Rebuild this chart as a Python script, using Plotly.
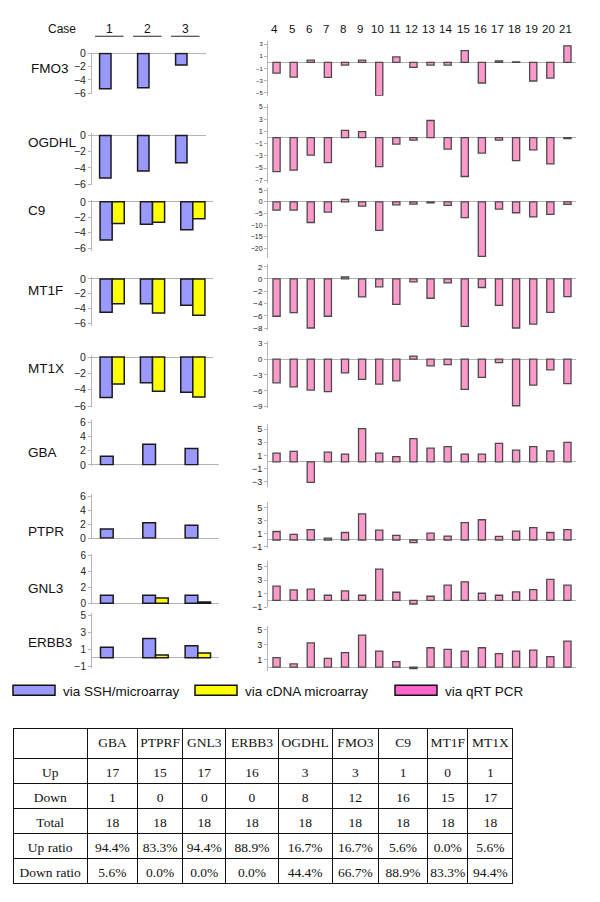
import plotly.graph_objects as go

# 页面有 8px 的默认边距, 所以图比窗口小 16px
PAD = 8
W, H = 600 - 2 * PAD, 902 - 2 * PAD

# 病例编号
cases_left = [1, 2, 3]
cases_right = list(range(4, 22))
row_labels = ["FMO3", "OGDHL", "C9", "MT1F", "MT1X", "GBA", "PTPR", "GNL3", "ERBB3"]

# via SSH/microarray (cases 1-3)
ssh_fmo3 = [-5.35, -5.2, -1.75]
ssh_ogdhl = [-5.26, -4.37, -3.36]
ssh_c9 = [-4.93, -2.9, -3.6]
ssh_mt1f = [-4.5, -3.33, -3.55]
ssh_mt1x = [-4.96, -3.15, -4.3]
ssh_gba = [1.2, 2.9, 2.3]
ssh_ptprf = [1.3, 2.2, 1.85]
ssh_gnl3 = [1.0, 1.0, 1.0]
ssh_erbb3 = [1.23, 2.26, 1.4]

# via cDNA microarray (cases 1-3)
cdna_c9 = [-2.8, -2.65, -2.2]
cdna_mt1f = [-3.33, -4.6, -4.9]
cdna_mt1x = [-3.3, -4.2, -4.9]
cdna_gnl3 = [None, 0.65, 0.15]
cdna_erbb3 = [None, 0.3, 0.55]

# via qRT PCR (cases 4-21)
qpcr_fmo3 = [-1.77, -2.42, 0.38, -2.47, -0.43, 0.38, -5.48, 0.91, -0.8,
             -0.43, -0.43, 1.94, -3.39, 0.27, 0.1, -3.06, -2.58, 2.74]
qpcr_ogdhl = [-5.57, -5.35, -2.86, -4.1, 1.19, 0.97, -4.76, -1.08, -0.43,
              2.8, -1.89, -6.38, -2.54, -0.43, -3.78, -2.0, -4.32, -0.16]
qpcr_c9 = [-3.55, -3.55, -8.9, -4.4, 1.1, -1.84, -12.3, -1.28, -1.0,
           -0.43, -1.56, -6.8, -23.5, -3.1, -4.7, -6.5, -5.4, -1.13]
qpcr_mt1f = [-6.08, -5.5, -8.0, -6.08, 0.32, -2.93, -1.28, -4.16, -0.48,
             -3.15, -0.64, -7.73, -1.39, -4.32, -8.0, -7.36, -5.44, -2.88]
qpcr_mt1x = [-4.5, -5.25, -5.86, -6.17, -2.6, -3.83, -4.75, -4.14, 0.56,
             -1.3, -1.05, -5.74, -3.46, -0.68, -8.83, -4.94, -2.04, -4.63]
qpcr_gba = [1.35, 1.6, -3.15, 1.5, 1.2, 5.1, 1.35, 0.8, 3.55,
            2.1, 2.35, 1.2, 1.2, 2.85, 1.8, 2.35, 1.7, 3.0]
qpcr_ptprf = [1.3, 0.85, 1.6, 0.3, 1.15, 4.0, 1.5, 0.7, -0.4,
              1.05, 0.6, 2.65, 3.1, 0.55, 1.35, 1.9, 1.15, 1.6]
qpcr_gnl3 = [2.1, 1.55, 1.65, 0.75, 1.4, 0.75, 4.65, 1.2, -0.55,
             0.6, 2.25, 2.75, 1.05, 0.75, 1.25, 1.6, 3.1, 2.25]
qpcr_erbb3 = [1.27, 0.42, 3.27, 1.18, 1.93, 4.3, 2.15, 0.73, -0.2,
              2.6, 2.38, 2.15, 2.6, 1.8, 2.15, 2.29, 1.4, 3.5]

# 表格数据
table_genes = ["GBA", "PTPRF", "GNL3", "ERBB3", "OGDHL", "FMO3", "C9", "MT1F", "MT1X"]
table_rows = ["Up", "Down", "Total", "Up ratio", "Down ratio"]
up_count = [17, 15, 17, 16, 3, 3, 1, 0, 1]
down_count = [1, 0, 0, 0, 8, 12, 16, 15, 17]
total_count = [18, 18, 18, 18, 18, 18, 18, 18, 18]
up_ratio = ["94.4%", "83.3%", "94.4%", "88.9%", "16.7%", "16.7%", "5.6%", "0.0%", "5.6%"]
down_ratio = ["5.6%", "0.0%", "0.0%", "0.0%", "44.4%", "66.7%", "88.9%", "83.3%", "94.4%"]

ssh_rows = [ssh_fmo3, ssh_ogdhl, ssh_c9, ssh_mt1f, ssh_mt1x, ssh_gba, ssh_ptprf, ssh_gnl3, ssh_erbb3]
cdna_rows = [None, None, cdna_c9, cdna_mt1f, cdna_mt1x, None, None, cdna_gnl3, cdna_erbb3]
qpcr_rows = [qpcr_fmo3, qpcr_ogdhl, qpcr_c9, qpcr_mt1f, qpcr_mt1x, qpcr_gba, qpcr_ptprf, qpcr_gnl3, qpcr_erbb3]

# 版面位置（窗口像素）: 零线位置, 每单位像素, 范围下限, 上限, tick0, dtick, 右端/字号, 左侧字号
left_geom = [
    (49, 6.67, -6.1, 0.15, 0, 2, 206, 10.5),
    (132, 8.17, -6.1, 0.35, 0, 2, 206, 10.5),
    (199, 7.83, -6.3, 0.3, 0, 2, 213, 10.5),
    (277, 7.5, -6.3, 0.3, 0, 2, 213, 10.5),
    (356, 8.25, -6.1, 0.3, 0, 2, 213, 10.5),
    (465, 7.17, -0.1, 6.3, 0, 2, 219, 10.5),
    (539, 7.0, -0.1, 6.3, 0, 2, 219, 10.5),
    (605, 8.1, -0.1, 6.2, 0, 2, 219, 10),
    (660, 8.6, -1.2, 5.2, 1, 2, 219, 10),
]
right_geom = [
    (58, 6.13, -5.5, 3.5, 1, 2, 6),
    (134, 6.17, -7.5, 5.5, 1, 2, 6.5),
    (199, 2.35, -24, 6, 0, 5, 7),
    (277, 6.2, -8.3, 2.5, 0, 2, 8),
    (358, 5.35, -9.3, 3.5, 0, 3, 8),
    (462, 6.6, -3.8, 5.8, 1, 2, 9),
    (541, 6.6, -1.2, 5.8, 1, 2, 9),
    (602, 6.8, -1.0, 5.8, 1, 2, 9),
    (669.5, 7.5, -0.5, 5.6, 1, 2, 9),
]
label_y = [64, 139, 208, 289, 368, 453, 532, 590, 645]

FONT = "Liberation Sans, Arial, sans-serif"
AX_GRAY = "#b4b4b4"


def px(p):
    return (p - PAD) / W


def py(p):
    return 1 - (p - PAD) / H


def sid(n):
    return "" if n == 1 else str(n)


fig = go.Figure()
layout = {}


def y_axis(n, zero, ppu, lo, hi, t0, dt, fsize):
    top = zero - hi * ppu
    bot = zero - lo * ppu
    return dict(domain=[py(bot), py(top)], range=[lo, hi], anchor="x" + sid(n),
                showgrid=False, showline=True, linecolor=AX_GRAY, linewidth=1,
                ticks="outside", ticklen=3, tickcolor=AX_GRAY, tick0=t0, dtick=dt,
                zeroline=True, zerolinecolor=AX_GRAY, zerolinewidth=1,
                tickfont=dict(size=fsize, color="#222", family=FONT))


for i in range(9):
    nl, nr = i + 1, i + 10
    zero, ppu, lo, hi, t0, dt, xend, lfs = left_geom[i]
    layout["xaxis" + sid(nl)] = dict(domain=[px(92), px(xend)], range=[0.5, 3.5],
                                     anchor="y" + sid(nl), visible=False)
    layout["yaxis" + sid(nl)] = y_axis(nl, zero, ppu, lo, hi, t0, dt, lfs)
    fig.add_trace(go.Bar(x=cases_left, y=ssh_rows[i], width=0.3, offset=-0.3,
                         marker=dict(color="#9999FF", line=dict(color="#1a1a1a", width=1.5)),
                         xaxis="x" + sid(nl), yaxis="y" + sid(nl), showlegend=False))
    if cdna_rows[i] is not None:
        fig.add_trace(go.Bar(x=cases_left, y=cdna_rows[i], width=0.3, offset=0,
                             marker=dict(color="#FFFF00", line=dict(color="#1a1a1a", width=1.5)),
                             xaxis="x" + sid(nl), yaxis="y" + sid(nl), showlegend=False))

    zero, ppu, lo, hi, t0, dt, fs = right_geom[i]
    layout["xaxis" + sid(nr)] = dict(domain=[px(268), px(576)], range=[3.5, 21.5],
                                     anchor="y" + sid(nr), visible=False)
    layout["yaxis" + sid(nr)] = y_axis(nr, zero, ppu, lo, hi, t0, dt, fs)
    fig.add_trace(go.Bar(x=cases_right, y=qpcr_rows[i], width=0.42, offset=-0.21,
                         marker=dict(color="#FF99CC", line=dict(color="#4a4a4a", width=1.3)),
                         xaxis="x" + sid(nr), yaxis="y" + sid(nr), showlegend=False))

annotations = []
for i, name in enumerate(row_labels):
    annotations.append(dict(text=name, x=px(29 if i == 0 else 26), y=py(label_y[i]),
                            xref="paper", yref="paper", xanchor="left", yanchor="middle",
                            showarrow=False, font=dict(size=13.5, family=FONT, color="#111")))

annotations.append(dict(text="Case", x=px(46), y=py(24), xref="paper", yref="paper",
                        yanchor="middle", showarrow=False,
                        font=dict(size=12, family=FONT, color="#111")))
shapes = []
for c in cases_left:
    annotations.append(dict(text=str(c), x=c - 0.05, y=py(24), xref="x", yref="paper",
                            yanchor="middle", showarrow=False,
                            font=dict(size=12, family=FONT, color="#111")))
    shapes.append(dict(type="line", xref="x", yref="paper", x0=c - 0.42, x1=c + 0.33,
                       y0=py(31.5), y1=py(31.5), line=dict(color="#222", width=1)))
for c in cases_right:
    annotations.append(dict(text=str(c), x=c - 0.1, y=py(24), xref="x10", yref="paper",
                            yanchor="middle", showarrow=False,
                            font=dict(size=11.5, family=FONT, color="#111")))

# 图例
legend_items = [("via SSH/microarray", "#9999FF", 13), ("via cDNA microarray", "#FFFF00", 195),
                ("via qRT PCR", "#FF66CC", 395)]
for text, color, x0 in legend_items:
    shapes.append(dict(type="rect", xref="paper", yref="paper", x0=px(x0), x1=px(x0 + 42),
                       y0=py(698), y1=py(688), fillcolor=color, line=dict(color="#111", width=1.5)))
    annotations.append(dict(text=text, x=px(x0 + 48), y=py(694), xref="paper", yref="paper",
                            xanchor="left", yanchor="middle", showarrow=False,
                            font=dict(size=13.5, family=FONT, color="#111")))

# 表格 (不换行空格, 防止 "Down ratio" 折行)
row_names = [r.replace(" ", "\u00a0") for r in table_rows]
cell_cols = [row_names] + [[up_count[j], down_count[j], total_count[j], up_ratio[j], down_ratio[j]]
                           for j in range(len(table_genes))]
tfont = dict(family="Liberation Serif, Times New Roman, serif", size=13.5, color="#111")
fig.add_trace(go.Table(
    domain=dict(x=[px(13), px(513)], y=[0, py(732)]),
    columnwidth=[74, 50, 45, 43, 52, 54, 46, 49, 40, 45],
    header=dict(values=[""] + table_genes, height=30, align="center", font=tfont,
                line=dict(color="#111", width=1), fill=dict(color="white")),
    cells=dict(values=cell_cols, height=25, align="center", font=tfont,
               line=dict(color="#111", width=1), fill=dict(color="white")),
))

fig.update_layout(
    width=W, height=H, margin=dict(l=0, r=0, t=0, b=0),
    paper_bgcolor="white", plot_bgcolor="white",
    barmode="overlay", showlegend=False,
    annotations=annotations, shapes=shapes,
    **layout,
)

fig.write_html("out.html")
